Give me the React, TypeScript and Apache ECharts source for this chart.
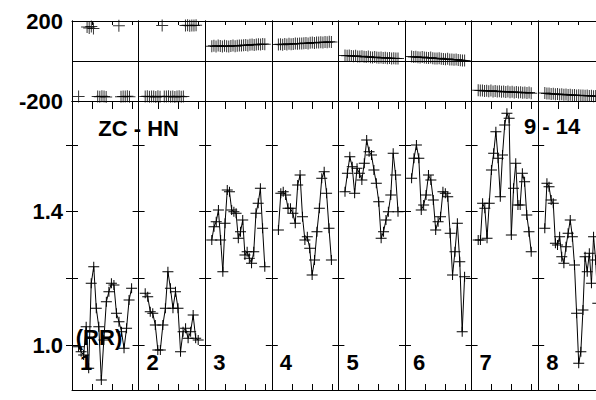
import React, { useEffect, useRef } from "react";
import * as echarts from "echarts";

// RR values per column (bottom panel)
const rr1 = [0.995, 0.98, 0.97, 1.055, 0.93, 1.185, 1.235, 1.11, 1.055, 0.895, 1.015, 1.13, 1.16, 1.185, 1.18, 1.095, 1.07, 1.04, 0.99, 1.05, 1.135, 1.17];
const rr2 = [1.155, 1.145, 1.1, 1.095, 1.06, 0.985, 0.985, 1.06, 1.11, 1.22, 1.17, 1.11, 1.16, 1.11, 0.98, 1.04, 1.05, 1.02, 1.04, 1.09, 1.02, 1.015];
const rr3 = [1.315, 1.355, 1.37, 1.405, 1.315, 1.22, 1.365, 1.465, 1.46, 1.405, 1.4, 1.395, 1.32, 1.34, 1.375, 1.27, 1.28, 1.26, 1.245, 1.28, 1.395, 1.425, 1.47, 1.35, 1.235];
const rr4 = [1.345, 1.455, 1.46, 1.45, 1.41, 1.41, 1.395, 1.365, 1.48, 1.51, 1.385, 1.315, 1.325, 1.29, 1.21, 1.255, 1.34, 1.41, 1.5, 1.52, 1.455, 1.35, 1.255];
const rr5 = [1.46, 1.515, 1.565, 1.535, 1.455, 1.53, 1.515, 1.495, 1.545, 1.615, 1.58, 1.57, 1.525, 1.485, 1.43, 1.32, 1.34, 1.375, 1.4, 1.45, 1.575, 1.51, 1.4];
const rr6 = [1.5, 1.56, 1.6, 1.56, 1.405, 1.42, 1.45, 1.51, 1.495, 1.435, 1.345, 1.37, 1.385, 1.46, 1.455, 1.445, 1.335, 1.21, 1.28, 1.365, 1.25, 1.04, 1.205];
const rr7 = [1.315, 1.315, 1.425, 1.41, 1.32, 1.425, 1.525, 1.575, 1.64, 1.56, 1.445, 1.57, 1.66, 1.695, 1.68, 1.33, 1.47, 1.545, 1.42, 1.42, 1.515, 1.49, 1.39, 1.34, 1.28];
const rr8 = [1.35, 1.485, 1.475, 1.435, 1.425, 1.305, 1.3, 1.325, 1.265, 1.245, 1.295, 1.335, 1.375, 1.325, 1.24, 1.095, 0.945, 0.98, 1.105, 1.265, 1.22, 1.275, 1.185, 1.325, 1.255, 1.125];

// phase values per column (top panel), null = no sample
const ph1 = [-178, null, null, null, 170, 165, 172, 162, null, -177, -179, -176, -178, -180, null, null, null, null, null, 176, -179, -177, -178, -176, -179, null];
const ph2 = [-178, -176, -179, -177, -178, -180, -176, -179, 178, -177, -178, -176, -179, -177, -180, -178, -176, -179, -177, 177, 179, 176, 178, 177, 179, null];
const ph3 = [74, 76, 73, 77, 75, 72, 76, 74, 73, 75, 77, 74, 76, 78, 77, 79, 80, 78, 81, 82, 80, 83, 84, 82, 85, 84];
const ph4 = [82, 84, 81, 85, 83, 86, 84, 85, 87, 86, 88, 87, 89, 90, 88, 91, 92, 90, 93, 92, 94, 93, 95, 94, 96, 95];
const ph5 = [28, 26, 27, 25, 24, 26, 23, 22, 24, 21, 20, 22, 19, 18, 20, 17, 16, 18, 15, 16, 14, 15, 13, 14, 12, 13];
const ph6 = [22, 20, 21, 19, 18, 20, 17, 16, 15, 17, 14, 13, 12, 14, 11, 10, 9, 11, 8, 7, 6, 8, 5, 4, 3, 2];
const ph7 = [-146, -148, -147, -150, -149, -151, -148, -152, -150, -153, -151, -154, -152, -155, -153, -156, -154, -157, -155, -158, -156, -159, -157, -160, -158, -161];
const ph8 = [-160, -163, -162, -165, -164, -166, -165, -168, -166, -169, -168, -170, -169, -171, -170, -172, -171, -173, -172, -174, -173, -175, -174, -176, -175, -177];

const rrCols = [rr1, rr2, rr3, rr4, rr5, rr6, rr7, rr8];
const phCols = [ph1, ph2, ph3, ph4, ph5, ph6, ph7, ph8];
const colLabels = ["1", "2", "3", "4", "5", "6", "7", "8"];
const rrTicks = [1.0, 1.2, 1.4, 1.6];
const rrLabels = [1.0, 1.4];
const phTickLabels = [-200, 200];

const FONT = '"Liberation Sans", Arial, sans-serif';
const LEFT0 = 72;
const COLW = 66.6;
const XMAX = 3.33;
const XSTART = 0.33;
const XSPAN = 2.65;

const plus10 = "path://M0,4.5H11V5.5H0Z M5,0H6V10H5Z";
const plus12 = "path://M0,5.5H12V6.5H0Z M5.5,0H6.5V12H5.5Z";

function xPos(i: number, n: number) {
  return XSTART + (i * XSPAN) / (n - 1);
}

function buildOption() {
  const grids: any[] = [];
  const xAxes: any[] = [];
  const yAxes: any[] = [];
  const series: any[] = [];
  const black = { color: "#000", width: 1 };
  const labelStyle = {
    fontSize: 22,
    fontWeight: "bold",
    fontFamily: FONT,
    color: "#000",
    margin: 9,
    padding: [4, 0, 0, 0],
  };

  // top grids 0..7, bottom grids 8..15
  for (let p = 0; p < 2; p++) {
    for (let k = 0; k < 8; k++) {
      const g = p * 8 + k;
      const isTop = p === 0;
      grids.push({
        left: LEFT0 + k * COLW,
        top: isTop ? 21 : 101,
        width: COLW,
        height: isTop ? 80 : 289,
        containLabel: false,
        outerBoundsMode: "none",
      });
      const xBase = {
        gridIndex: g,
        type: "value",
        min: 0,
        max: XMAX,
        interval: 1,
        axisLine: { show: true, onZero: false, lineStyle: black },
        axisLabel: { show: false },
        splitLine: { show: false },
      };
      xAxes.push({
        ...xBase,
        position: "bottom",
        axisTick: { show: !isTop, inside: true, length: 6, lineStyle: black },
      });
      xAxes.push({
        ...xBase,
        position: "top",
        axisTick: { show: true, inside: true, length: isTop ? 4 : 8, lineStyle: black },
      });
      if (isTop) {
        yAxes.push({
          gridIndex: g,
          type: "value",
          position: "left",
          min: -200,
          max: 200,
          interval: 200,
          axisLine: { show: true, lineStyle: black },
          axisTick: { show: false },
          splitLine: { show: true, lineStyle: black },
          axisLabel: {
            show: k === 0,
            ...labelStyle,
            customValues: phTickLabels,
            formatter: (v: number) => (v === 0 ? "" : String(v)),
          },
        });
        yAxes.push({
          gridIndex: g,
          type: "value",
          position: "right",
          min: -200,
          max: 200,
          interval: 200,
          axisLine: { show: true, lineStyle: black },
          axisTick: { show: false },
          splitLine: { show: false },
          axisLabel: { show: false },
        });
        const ph = phCols[k];
        const data: any[] = [];
        ph.forEach((v, i) => {
          if (v !== null) data.push([xPos(i, ph.length), v]);
        });
        series.push({
          type: "scatter",
          xAxisIndex: 2 * g,
          yAxisIndex: 2 * g,
          symbol: plus12,
          symbolSize: [12, 12],
          itemStyle: { color: "#000" },
          data,
          silent: true,
        });
      } else {
        const yBase = {
          gridIndex: g,
          type: "value",
          min: 0.865,
          max: 1.732,
          axisLine: { show: true, lineStyle: black },
          axisTick: { show: true, inside: true, length: 6, lineStyle: black, customValues: rrTicks },
          splitLine: { show: false },
        };
        yAxes.push({
          ...yBase,
          position: "left",
          axisLabel: {
            show: k === 0,
            ...labelStyle,
            customValues: rrLabels,
            formatter: (v: number) => v.toFixed(1),
          },
        });
        yAxes.push({
          ...yBase,
          position: "right",
          axisLabel: { show: false },
        });
        const rr = rrCols[k];
        series.push({
          type: "line",
          xAxisIndex: 2 * g,
          yAxisIndex: 2 * g,
          symbol: plus10,
          symbolSize: [11, 10],
          showSymbol: true,
          itemStyle: { color: "#000" },
          lineStyle: { color: "#000", width: 1 },
          data: rr.map((v, i) => [xPos(i, rr.length), v]),
          silent: true,
        });
      }
    }
  }

  const textStyle = (text: string, x: number, y: number, align: string) => ({
    type: "text",
    x,
    y,
    z: 100,
    style: {
      text,
      fill: "#000",
      font: `bold 22px ${FONT}`,
      lineHeight: 19,
      align,
      verticalAlign: "middle",
    },
  });

  const graphic: any[] = [
    textStyle("ZC - HN", LEFT0 + COLW, 128, "center"),
    textStyle("9 - 14", 552, 126, "center"),
    textStyle("(RR)", 99, 337, "center"),
  ];
  colLabels.forEach((t, k) => {
    graphic.push(textStyle(t, LEFT0 + k * COLW + 8, 362, "left"));
  });

  return {
    animation: false,
    grid: grids,
    xAxis: xAxes,
    yAxis: yAxes,
    series,
    graphic,
  };
}

export default function App() {
  const ref = useRef<HTMLDivElement>(null);
  useEffect(() => {
    if (!ref.current) return;
    const chart = echarts.init(ref.current, null, { renderer: "svg" });
    chart.setOption(buildOption() as any);
    return () => chart.dispose();
  }, []);
  return (
    <div
      ref={ref}
      style={{ position: "fixed", left: 0, top: 0, width: 596, height: 400, background: "#fff", overflow: "hidden" }}
    />
  );
}
